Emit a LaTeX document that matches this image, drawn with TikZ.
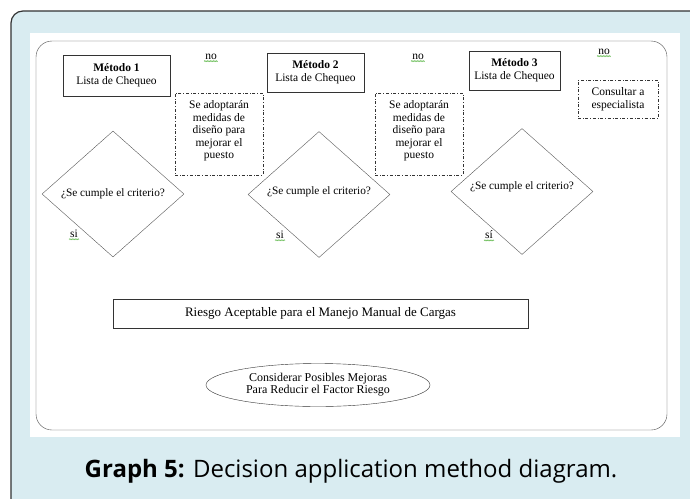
\documentclass[tikz,border=0pt]{standalone}
\usepackage{fontspec}
\setmainfont{Liberation Serif}
\newfontfamily\capfont{Open Sans}
\usetikzlibrary{shapes.geometric,decorations.pathmorphing}
\definecolor{panelblue}{HTML}{D9ECF1}
\definecolor{framegray}{HTML}{333333}
\definecolor{spellgreen}{HTML}{6DBE5A}

\begin{document}
\begin{tikzpicture}[x=1pt,y=-1pt,thin,
    metodo/.style={draw=black!80,rectangle,align=center,inner sep=0pt,font=\fontsize{11.5}{13}\selectfont},
    medida/.style={draw=black!80,dash dot,rectangle,inner sep=0pt,minimum width=88pt},
    texto/.style={align=center,inner sep=0pt,font=\fontsize{11.5}{12.6}\selectfont},
    decision/.style={draw=black!65,diamond,inner sep=0pt,minimum width=142pt,minimum height=126pt},
    pregunta/.style={font=\fontsize{11.3}{13}\selectfont},
    etiqueta/.style={font=\fontsize{11.5}{13}\selectfont,inner sep=1pt},
    spell/.style={spellgreen,line width=0.5pt,decorate,decoration={zigzag,segment length=1.5pt,amplitude=0.5pt}}]
    \useasboundingbox (0,0) rectangle (690,498);

    % marco exterior y panel
    \draw[framegray,line width=1.2pt,fill=panelblue,rounded corners=12pt] (11,11) rectangle (706,514);
    \fill[white] (30,33) rectangle (680,437);
    \draw[black!70,rounded corners=16pt] (36,41) rectangle (667,430);

    % metodos
    \node[metodo,minimum width=107pt,minimum height=41pt] (m1) at (116.5,75.5) {\textbf{Método 1}\\Lista de Chequeo};
    \node[metodo,minimum width=97pt,minimum height=39pt] (m2) at (315.5,72.5) {\textbf{Método 2}\\Lista de Chequeo};
    \node[metodo,minimum width=91pt,minimum height=39pt] (m3) at (514.5,70.5) {\textbf{Método 3}\\Lista de Chequeo};

    % medidas
    \node[medida,minimum height=82pt] (md1) at (219,134) {};
    \node[medida,minimum height=82pt] (md2) at (419,134) {};
    \node[texto] (t1) at ([yshift=3pt]md1.center) {Se adoptarán\\medidas de\\diseño para\\mejorar el\\puesto};
    \node[texto] (t2) at ([yshift=3pt]md2.center) {Se adoptarán\\medidas de\\diseño para\\mejorar el\\puesto};
    \node[medida,texto,minimum width=80pt,minimum height=38pt] (esp) at (618,99) {Consultar a\\especialista};

    % decisiones
    \node[decision] (d1) at (113,194) {};
    \node[decision] (d2) at (319,194.5) {};
    \node[decision] (d3) at (522,191.5) {};
    \node[pregunta] (q1) at (d1.center) {¿Se cumple el criterio?};
    \node[pregunta] (q2) at ([yshift=3pt]d2.center) {¿Se cumple el criterio?};
    \node[pregunta] (q3) at ([yshift=4.5pt]d3.center) {¿Se cumple el criterio?};

    % no / si
    \node[etiqueta] (no1) at (211,57) {no};
    \node[etiqueta] (no2) at (418,57) {no};
    \node[etiqueta] (no3) at (604,52) {no};
    \node[etiqueta] (si1) at (74,234) {si};
    \node[etiqueta] (si2) at (280,235) {si};
    \node[etiqueta] (si3) at (489,235) {sí};
    \foreach \n in {no1,no2,no3,si1,si2,si3}
        \draw[spell] ([yshift=-1.5pt]\n.base west) -- ([yshift=-1.5pt]\n.base east);

    % riesgo y mejoras
    \node[metodo,minimum width=415pt,minimum height=29pt,font=\fontsize{13}{15}\selectfont] (riesgo) at (320.5,313.5) {Riesgo Aceptable para el Manejo Manual de Cargas};
    \node[draw=black!80,ellipse,inner sep=0pt,minimum width=224pt,minimum height=43pt,align=center,font=\fontsize{12}{12}\selectfont] (mejoras) at (318,385) {Considerar Posibles Mejoras\\Para Reducir el Factor Riesgo};

    % pie
    \node[font=\capfont\fontsize{24}{26}\selectfont] (pie) at (351,471) {\textbf{Graph 5:} Decision application method diagram.};
\end{tikzpicture}
\end{document}
